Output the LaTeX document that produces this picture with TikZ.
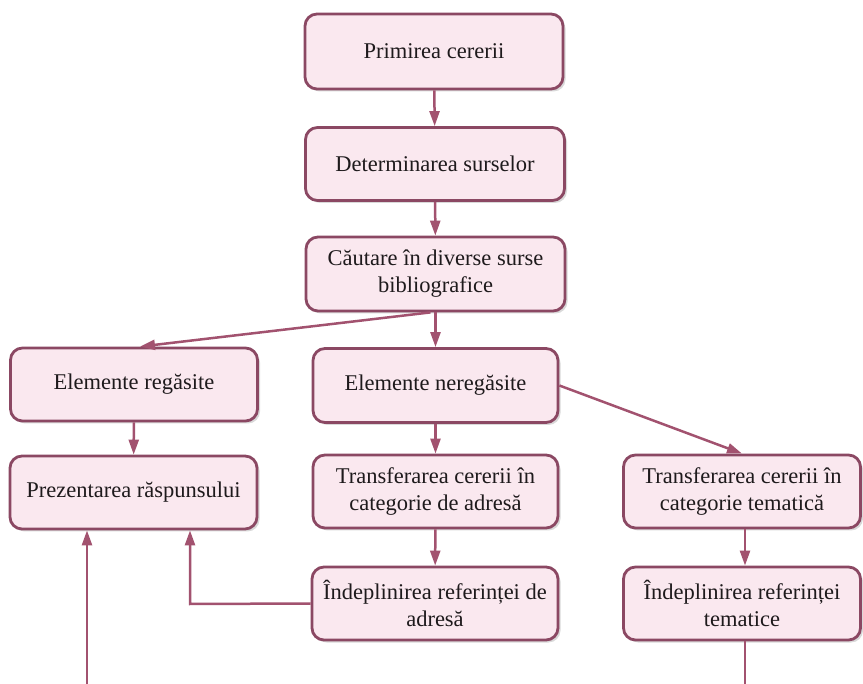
\documentclass[tikz,border=0pt]{standalone}
\usepackage{fontspec}
\setmainfont{Liberation Serif}
\usetikzlibrary{arrows.meta,shadows}
\definecolor{boxfill}{HTML}{FAE8EF}
\definecolor{boxline}{HTML}{8B4863}
\definecolor{linkcol}{HTML}{A2526F}
\definecolor{txt}{HTML}{1E1A1C}
\tikzset{
  stepbox/.style={draw=boxline, line width=2.8pt, fill=boxfill, rounded corners=12pt,
    align=center, text=txt, font=\fontsize{22.5}{27}\selectfont, inner sep=2pt,
    drop shadow={shadow xshift=2.5pt, shadow yshift=-2.5pt, opacity=0.25, fill=black!60}},
  link/.style={draw=linkcol, line width=2.5pt, -{Triangle[length=15pt,width=10pt]}}
}
\begin{document}
\begin{tikzpicture}[x=1pt,y=-1pt]
\useasboundingbox (0,0) rectangle (863,684);
\clip (0,0) rectangle (863,684);
% process boxes
\node[stepbox, minimum width=258pt, minimum height=75pt] (b1) at (434,51.5) {Primirea cererii};
\node[stepbox, minimum width=259pt, minimum height=73pt] (b2) at (435,164) {Determinarea surselor};
\node[stepbox, minimum width=259pt, minimum height=74pt] (b3) at (435.5,274) {Căutare în diverse surse\\bibliografice};
\node[stepbox, minimum width=247pt, minimum height=73pt] (e1) at (134,384.5) {Elemente regăsite};
\node[stepbox, minimum width=245pt, minimum height=74pt] (e2) at (435.5,385.5) {Elemente neregăsite};
\node[stepbox, minimum width=247pt, minimum height=73pt] (p) at (133.5,492.5) {Prezentarea răspunsului};
\node[stepbox, minimum width=245pt, minimum height=73pt] (ta) at (435.5,491.5) {Transferarea cererii în\\categorie de adresă};
\node[stepbox, minimum width=237pt, minimum height=73pt] (tt) at (742,491.5) {Transferarea cererii în\\categorie tematică};
\node[stepbox, minimum width=246pt, minimum height=73pt] (ia) at (435,603.5) {Îndeplinirea referinței de\\adresă};
\node[stepbox, minimum width=237pt, minimum height=73pt] (it) at (742,603.5) {Îndeplinirea referinței\\tematice};
% helper points for the routed returns
\coordinate (lowR) at (745,720);
\coordinate (lowL) at (87,720);
\coordinate (midL) at (190,604);
% connectors
\draw[link] (b1) -- (b2);
\draw[link] (b2) -- (b3);
\draw[link] ([xshift=-5pt]b3.south) -- ([xshift=6pt]e1.north);
\draw[link] (b3) -- (e2);
\draw[link] (e2.east) -- (tt.north);
\draw[link] (e1) -- (p);
\draw[link] (e2) -- (ta);
\draw[link] (ta) -- (ia);
\draw[link] ([xshift=3pt]tt.south) -- ([xshift=3pt]it.north);
\draw[link] (ia.west) -- (midL) -- (midL |- p.south);
\draw[link] ([xshift=3pt]it.south) -- (lowR) -- (lowL) -- (lowL |- p.south);
\end{tikzpicture}
\end{document}
